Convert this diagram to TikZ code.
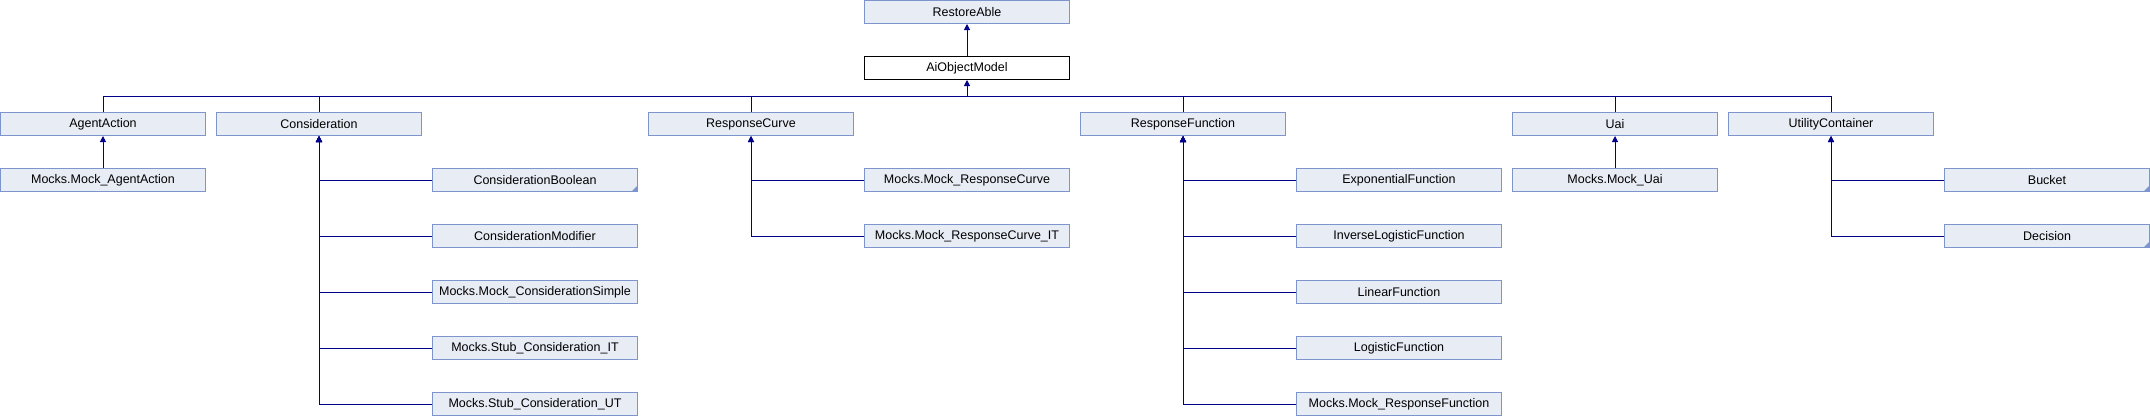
\documentclass[tikz,border=0pt]{standalone}
\usepackage{fontspec}
\setmainfont{Liberation Sans}
\usetikzlibrary{arrows.meta}
\definecolor{boxfill}{HTML}{E8ECF5}
\definecolor{boxline}{HTML}{7C95CC}
\definecolor{linkcol}{HTML}{00008B}
\tikzset{
  cls/.style={draw=boxline, fill=boxfill, line width=1pt, minimum width=205pt,
    minimum height=23pt, inner sep=0pt, anchor=north west, font=\fontsize{12.5}{14}\selectfont},
  more/.style={path picture={\fill[boxline] (path picture bounding box.south east)
    -- ++(-6pt,0) -- ++(6pt,6pt) -- cycle;}},
  inh/.style={draw=linkcol, line width=1pt, -{Triangle[length=6pt,width=6pt]}}
}
\begin{document}
\begin{tikzpicture}[x=1pt, y=-1pt]
	\useasboundingbox (0,0) rectangle (2150,416);
	\begin{scope}[every node/.style={cls}]
		\node (restoreable) at (864,0) {RestoreAble};
		\node[fill=white, draw=black] (aiobjectmodel) at (864,56) {AiObjectModel};
		\node (agentaction) at (0,112) {AgentAction};
		\node (consideration) at (216,112) {Consideration};
		\node (responsecurve) at (648,112) {ResponseCurve};
		\node (responsefunction) at (1080,112) {ResponseFunction};
		\node (uai) at (1512,112) {Uai};
		\node (utilitycontainer) at (1728,112) {UtilityContainer};
		\node (mockagentaction) at (0,168) {Mocks.Mock\_AgentAction};
		\node[more] (c1) at (432,168) {ConsiderationBoolean};
		\node (c2) at (432,224) {ConsiderationModifier};
		\node (c3) at (432,280) {Mocks.Mock\_ConsiderationSimple};
		\node (c4) at (432,336) {Mocks.Stub\_Consideration\_IT};
		\node (c5) at (432,392) {Mocks.Stub\_Consideration\_UT};
		\node (rc1) at (864,168) {Mocks.Mock\_ResponseCurve};
		\node (rc2) at (864,224) {Mocks.Mock\_ResponseCurve\_IT};
		\node (rf1) at (1296,168) {ExponentialFunction};
		\node (rf2) at (1296,224) {InverseLogisticFunction};
		\node (rf3) at (1296,280) {LinearFunction};
		\node (rf4) at (1296,336) {LogisticFunction};
		\node (rf5) at (1296,392) {Mocks.Mock\_ResponseFunction};
		\node (mockuai) at (1512,168) {Mocks.Mock\_Uai};
		\node[more] (uc1) at (1944,168) {Bucket};
		\node[more] (uc2) at (1944,224) {Decision};
	\end{scope}
	\coordinate (bus) at (0,96);

	\draw[inh] (aiobjectmodel) -- (restoreable);
	\draw[inh] (aiobjectmodel.south |- bus) -- (aiobjectmodel);
	\draw[draw=linkcol, line width=1pt] (agentaction.north) |- (utilitycontainer.north |- bus) -- (utilitycontainer.north);
	\foreach \n in {consideration,responsecurve,responsefunction,uai}
		{\draw[draw=linkcol, line width=1pt] (\n.north) -- (\n.north |- bus);}

	\draw[inh] (mockagentaction) -- (agentaction);
	\draw[inh] (mockuai) -- (uai);
	\foreach \i in {1,...,5}{\draw[inh] (c\i.west) -| (consideration.south);}
	\foreach \i in {1,2}{\draw[inh] (rc\i.west) -| (responsecurve.south);}
	\foreach \i in {1,...,5}{\draw[inh] (rf\i.west) -| (responsefunction.south);}
	\foreach \i in {1,2}{\draw[inh] (uc\i.west) -| (utilitycontainer.south);}
\end{tikzpicture}
\end{document}
